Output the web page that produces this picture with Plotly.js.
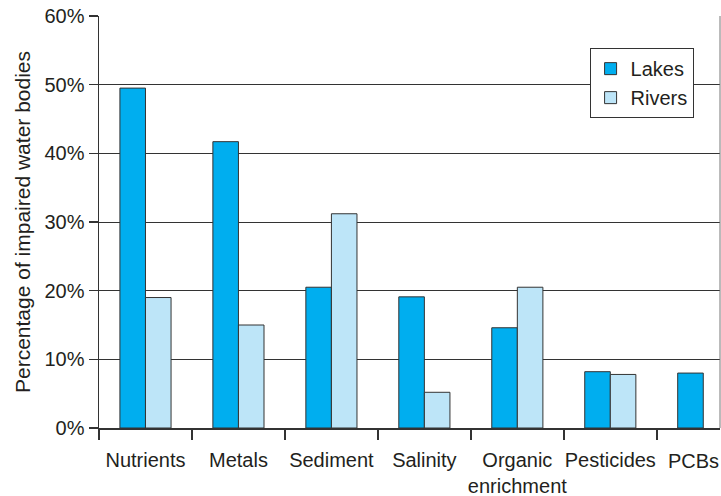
<!DOCTYPE html>
<html>
<head>
<meta charset="utf-8">
<script src="https://cdn.plot.ly/plotly-3.0.1.min.js"></script>
<style>html,body{margin:0;padding:0;background:#fff;}#chart{width:721px;height:496px;}</style>
</head>
<body>
<div id="chart"></div>
<script>
const categories = ["Nutrients", "Metals", "Sediment", "Salinity", "Organic<br>enrichment", "Pesticides", "PCBs"];
const lakes = [49.5, 41.7, 20.5, 19.1, 14.6, 8.2, 8.0];
const rivers = [19.0, 15.0, 31.2, 5.2, 20.5, 7.8, null];
const yTickVals = [0, 10, 20, 30, 40, 50, 60];
const yTickText = ["0%", "10%", "20%", "30%", "40%", "50%", "60%"];

const fontFam = "Liberation Sans, Arial, Helvetica, sans-serif";
const txt = "#231f20";
const lastIdx = categories.length - 1;
const xTickText = categories.map((c, i) => i === lastIdx ? "" : c);

const traces = [
  {type: "bar", name: "Lakes", x: categories, y: lakes,
   marker: {color: "#00aeef", line: {color: "#333333", width: 1}}},
  {type: "bar", name: "Rivers", x: categories, y: rivers,
   marker: {color: "#bde5f8", line: {color: "#333333", width: 1}}}
];

const layout = {
  width: 721, height: 496,
  margin: {l: 99, r: 1, t: 16, b: 68},
  paper_bgcolor: "#fff", plot_bgcolor: "#fff",
  barmode: "group", bargap: 0.45, bargroupgap: 0,
  font: {family: fontFam, size: 20, color: txt},
  showlegend: true,
  legend: {x: 0.79, y: 0.922, xanchor: "left", yanchor: "top",
    bgcolor: "#fff", bordercolor: "#333", borderwidth: 1,
    font: {family: fontFam, size: 20, color: txt}, tracegroupgap: 0},
  xaxis: {type: "category", range: [-0.5, 6.18], tickson: "boundaries",
    tickvals: categories, ticktext: xTickText, tickangle: 0, ticklabelstandoff: 13,
    ticks: "outside", ticklen: 10, tickcolor: "#333", tickwidth: 1.5,
    showline: true, linecolor: "#333", linewidth: 1.5,
    showgrid: false, tickfont: {family: fontFam, size: 20, color: txt}, fixedrange: true},
  yaxis: {range: [0, 60], tickvals: yTickVals, ticktext: yTickText,
    ticks: "outside", ticklen: 9, tickcolor: "#333", tickwidth: 1.5,
    showline: true, linecolor: "#333", linewidth: 1.5,
    showgrid: true, gridcolor: "#333", gridwidth: 1, zeroline: false,
    tickfont: {family: fontFam, size: 20, color: txt},
    title: {text: "Percentage of impaired water bodies", font: {family: fontFam, size: 21, color: txt}, standoff: 8}},
  annotations: [{xref: "x", yref: "paper", x: categories[lastIdx], y: 0, yanchor: "top",
    xanchor: "center", xshift: -10, yshift: -20, text: categories[lastIdx], showarrow: false,
    font: {family: fontFam, size: 20, color: txt}}],
  shapes: [{type: "line", xref: "paper", yref: "paper", x0: 1, x1: 1, y0: 0, y1: 1,
    line: {color: "#777", width: 1}}]
};

Plotly.newPlot("chart", traces, layout, {displayModeBar: false, staticPlot: true});
</script>
</body>
</html>
